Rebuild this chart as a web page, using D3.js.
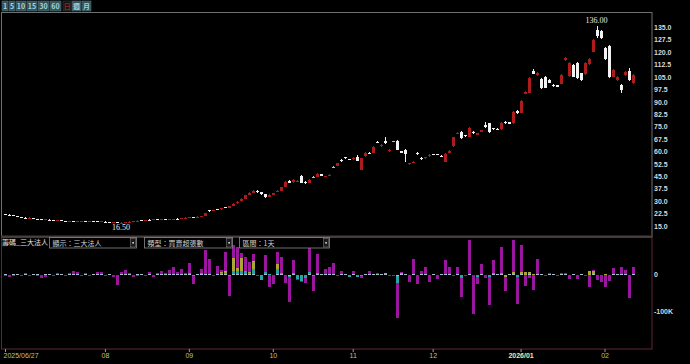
<!DOCTYPE html>
<html><head><meta charset="utf-8">
<script src="https://cdn.jsdelivr.net/npm/d3@7"></script>
<style>
body{margin:0;background:#000;overflow:hidden}
svg{display:block;font-family:"Liberation Sans",Arial,sans-serif}
</style></head><body>
<script>
const W = 690, H = 364

// trading days per month
const jun25 = [27,30]
const jul25 = [1,2,3,4,7,8,9,10,11,14,15,16,17,18,21,22,23,24,25,28,29,30,31]
const aug25 = [1,4,5,6,7,8,11,12,13,14,15,18,19,20,21,22,25,26,27,28,29]
const sep25 = [1,2,3,4,5,8,9,10,11,12,15,16,17,18,19,22,23,24,25,26,30]
const oct25 = [1,2,3,7,8,9,13,14,15,16,17,20,21,22,23,27,28,29,30,31]
const nov25 = [3,4,5,6,7,10,11,12,13,14,17,18,19,20,21,24,25,26,27,28]
const dec25 = [1,2,3,4,5,8,9,10,11,12,15,16,17,18,19,22,23,24,26,29,30,31]
const jan26 = [2,5,6,7,8,9,12,13,14,15,16,19,20,21,22,23,26,27,28,29,30]
const feb26 = [2,3,4,5,6,9,10,11]

const pad = n => String(n).padStart(2, "0")
const dates = [].concat(
  jun25.map(d => "2025/06/" + pad(d)), jul25.map(d => "2025/07/" + pad(d)),
  aug25.map(d => "2025/08/" + pad(d)), sep25.map(d => "2025/09/" + pad(d)),
  oct25.map(d => "2025/10/" + pad(d)), nov25.map(d => "2025/11/" + pad(d)),
  dec25.map(d => "2025/12/" + pad(d)), jan26.map(d => "2026/01/" + pad(d)),
  feb26.map(d => "2026/02/" + pad(d)))

const opens = [
  22.2,21.9,21.5,21.0,20.5,20.1,19.8,19.9,19.4,19.1,
  18.8,18.9,18.5,18.2,18.4,18.1,17.9,18.1,17.8,18.0,
  18.2,18.0,18.1,17.9,17.7,17.7,17.5,17.3,17.3,17.0,
  17.1,17.4,17.7,18.0,18.4,18.3,18.7,18.6,19.0,18.9,
  19.2,19.0,19.2,19.4,19.3,19.8,20.2,20.5,20.3,20.7,
  20.9,24.4,24.0,25.2,25.0,26.2,26.0,27.0,28.6,29.8,
  31.6,33.9,35.0,36.3,35.6,34.2,32.6,34.0,35.9,36.2,
  38.8,42.3,41.4,41.8,45.0,41.6,41.0,44.3,44.6,46.2,
  44.6,45.2,50.6,51.2,54.6,56.4,55.4,55.2,56.5,49.0,
  57.0,59.3,59.0,65.8,63.2,66.2,60.2,66.2,66.5,60.0,
  61.0,52.4,53.0,59.0,56.2,55.8,57.0,58.4,58.3,57.4,
  53.8,59.0,63.3,70.8,72.0,69.8,69.0,72.0,70.2,71.8,
  75.8,77.0,74.0,73.8,73.4,78.0,77.6,77.0,84.3,83.5,
  94.8,95.5,108.6,106.0,104.0,105.0,103.0,100.2,100.0,101.0,
  115.0,105.6,112.2,113.6,107.2,106.8,112.8,120.3,133.4,133.0,
  122.3,123.7,105.2,103.2,100.2,106.2,108.6,101.5]
const highs = [
  22.4,22.0,21.6,21.2,20.6,20.4,20.2,20.0,19.5,19.3,
  19.1,19.0,18.6,18.6,18.5,18.3,18.3,18.2,18.1,18.3,
  18.3,18.2,18.2,18.0,17.9,17.8,17.6,17.5,17.4,17.2,
  17.5,17.8,18.1,18.4,18.6,18.8,19.0,19.1,19.2,19.3,
  19.3,19.3,19.5,19.6,19.9,20.2,20.5,20.7,20.8,21.0,
  22.8,24.8,24.8,25.4,26.0,26.6,27.2,28.8,29.9,31.8,
  34.0,35.3,36.5,36.6,35.8,34.4,34.3,35.0,36.6,38.8,
  42.2,42.6,43.4,42.8,45.5,41.9,43.1,45.0,46.8,46.4,
  45.3,46.3,51.5,53.2,55.3,56.8,55.6,56.4,57.8,56.3,
  59.8,59.6,63.3,66.2,64.5,69.0,61.5,66.6,67.0,60.4,
  61.5,53.3,54.3,59.6,56.6,56.9,58.3,58.7,58.6,57.8,
  58.8,61.0,68.9,71.8,72.4,70.2,74.5,72.4,71.2,73.2,
  78.0,77.5,74.4,74.1,77.8,78.4,77.9,84.5,84.8,91.0,
  96.4,104.8,110.0,108.2,104.5,105.5,104.0,100.6,100.4,106.6,
  116.8,113.8,112.8,114.2,107.6,113.8,116.2,128.0,136.0,133.6,
  123.0,124.3,109.8,105.8,100.6,108.8,110.2,106.8]
const lows = [
  21.8,21.5,20.9,20.5,20.0,19.8,19.6,19.4,19.0,18.8,
  18.6,18.4,18.1,18.1,18.0,17.8,17.8,17.7,17.7,17.9,
  17.9,17.8,17.8,17.6,17.5,17.4,17.2,17.1,16.9,16.5,
  17.0,17.3,17.6,17.9,18.2,18.2,18.5,18.5,18.8,18.8,
  18.9,18.9,19.1,19.1,19.2,19.7,20.0,20.2,20.2,20.5,
  20.8,23.6,23.8,24.7,24.9,25.8,25.9,26.9,28.4,29.6,
  31.4,33.6,34.8,35.2,34.0,32.2,32.4,33.7,35.6,36.0,
  38.6,40.9,41.2,41.5,40.8,40.5,40.8,43.8,44.5,45.1,
  44.4,45.0,50.0,51.0,53.7,55.6,54.6,55.0,54.0,48.8,
  56.8,58.2,58.8,64.9,62.8,64.8,59.8,65.5,60.7,58.8,
  53.8,52.0,52.8,58.0,55.0,55.6,56.8,57.6,57.6,56.6,
  53.5,58.8,63.0,70.5,67.6,68.9,68.8,70.8,70.0,71.6,
  74.4,71.3,73.0,72.8,73.2,76.9,76.5,76.8,82.8,83.3,
  94.5,95.2,106.5,105.8,98.0,98.2,101.3,99.0,98.8,100.6,
  114.6,105.2,104.8,103.8,102.8,106.4,112.5,119.8,128.4,127.8,
  115.0,104.6,104.8,102.8,95.1,105.8,102.8,101.0]
const closes = [
  22.0,21.6,21.0,20.6,20.2,20.0,19.9,19.5,19.2,18.9,
  19.0,18.5,18.3,18.5,18.1,18.0,18.2,17.8,18.0,18.2,
  18.0,18.1,17.9,17.7,17.8,17.5,17.3,17.4,17.0,17.1,
  17.4,17.7,18.0,18.3,18.3,18.7,18.6,19.0,18.9,19.2,
  19.0,19.2,19.3,19.2,19.8,20.1,20.4,20.3,20.7,20.8,
  22.6,24.0,24.6,24.9,25.8,26.0,27.0,28.5,29.6,31.5,
  33.8,35.0,36.2,35.5,34.3,32.5,34.0,34.8,36.0,38.5,
  41.8,41.2,43.0,42.4,41.2,40.8,42.8,44.3,46.4,45.4,
  45.0,46.0,50.6,52.8,54.0,55.9,54.9,55.9,54.2,56.0,
  59.3,58.5,62.9,65.3,63.9,65.3,60.9,66.2,61.0,59.3,
  58.4,52.8,53.8,58.5,55.3,56.5,57.9,57.9,57.9,56.9,
  58.5,60.5,68.6,71.4,68.0,69.2,74.0,71.2,70.9,72.8,
  74.8,71.5,73.3,73.1,77.4,77.2,76.8,84.0,83.2,90.5,
  96.0,104.2,107.0,107.6,98.5,98.6,101.6,99.4,99.2,106.2,
  116.2,113.3,105.2,104.2,103.2,113.3,115.7,127.3,129.7,128.4,
  115.7,105.2,109.2,105.2,97.1,108.2,103.2,106.2]

// 三大法人 net buy/sell, thousands of lots
const foreign = [
  -4,-6,-3,2,-2,3,-2,-1,-3,-8,
  -5,2,-2,3,1,-2,4,8,5,-2,
  3,-3,2,5,7,-3,-2,-4,-25,6,
  12,4,-6,-3,2,-2,5,-4,3,8,
  4,12,20,6,14,4,27,-21,1,12,
  65,40,-2,21,5,51,-53,35,57,16,
  37,25,18,-2,-1,48,-31,-24,34,45,
  -20,-69,36,-1,-2,-12,68,-39,53,1,
  13,18,28,-2,9,1,-1,8,-2,-4,
  1,7,1,2,1,1,-1,-2,-94,1,
  1,-17,40,-24,9,18,-17,1,-10,1,
  39,18,-2,18,-50,-2,92,-105,-17,27,
  -8,-75,35,1,71,-36,1,86,-73,73,
  -28,-8,-39,41,1,-1,2,1,-2,2,
  3,-9,1,-9,1,-1,-31,2,-12,-18,
  -31,-16,15,1,18,11,-62,19]
const trust = [
  0,0,0,0,0,0,0,0,0,0, 0,0,0,0,0,0,0,0,0,0,
  0,0,0,0,0,0,0,0,0,0, 0,0,0,0,0,0,0,0,0,0,
  0,0,0,0,0,0,0,0,0,0,
  0,0,0,0,3,6,0,34,9,34,
  0,4,22,0,0,0,0,0,13,0,
  0,0,0,0,0,0,0,0,0,0, 0,0,0,0,0,0,0,0,0,0,
  0,0,0,0,0,2,0,0,0,3,
  0,0,0,0,0,0,0,0,0,0, 0,0,0,0,0,0,0,0,0,0,
  0,0,0,0,0,-5,0,5,0,5,
  6,4,3,0,0,0,0,0,0,0,
  0,0,0,0,0,0,11,9,0,0,
  2,0,0,0,0,0,0,0]
const dealer = [
  0,0,0,0,0,0,0,0,0,0, 0,0,0,0,0,0,0,0,0,0,
  0,0,0,0,0,0,0,0,0,0, 0,0,0,0,0,0,0,0,0,0,
  0,0,0,0,0,0,2,-2,0,2,
  0,0,0,0,2,2,-2,8,8,8,
  8,2,13,0,-12,4,3,0,13,2,
  0,-2,2,-10,-15,-8,5,-2,2,0,
  1,1,1,0,0,0,-4,0,-3,-2,
  0,0,0,0,0,0,0,0,-19,0,
  0,0,0,0,0,0,0,0,0,0,
  0,0,0,0,-8,0,0,0,-5,0,
  0,-4,3,0,3,0,0,0,-3,0,
  0,0,0,0,0,0,0,0,0,0, 0,0,0,0,0,0,0,0,0,0,
  0,0,0,0,0,0,0,0]
const hedge = [
  1,-1,1,1,-1,1,-1,1,1,-1, 1,1,-1,1,1,-1,1,1,1,-1,
  1,-1,1,1,1,-1,1,-1,-2,1, 2,1,-1,1,1,-1,1,-1,1,1,
  1,2,2,1,2,1,2,-2,2,2, 2,2,-2,2,2,2,-2,2,2,2,
  2,2,2,-2,-2,2,-2,-2,2,2, -2,-3,2,-2,-2,-2,3,-2,2,2,
  2,2,2,-2,2,2,-2,2,-2,-2, 2,2,2,2,2,2,-2,-2,-3,2,
  2,-2,2,-2,2,2,-2,2,-2,2, 2,2,-2,2,-2,-2,2,-2,-2,2,
  -2,-2,2,2,2,-2,2,2,-2,2, -2,2,-2,2,2,-2,2,2,-2,2,
  2,-2,2,-2,2,-2,-2,2,-2,-2, -2,-2,2,2,2,2,-2,2]

const priceTicks = [135,127.5,120,112.5,105,97.5,90,82.5,75,67.5,60,52.5,45,37.5,30,22.5,15]
const flowTicks = [0,-100]
const tickDates = ["2025/06/27","2025/08/01","2025/09/01","2025/10/01","2025/11/03","2025/12/01","2026/01/02","2026/02/02"]
const tickLabels = ["2025/06/27","08","09","10","11","12","2026/01","02"]
const periodBtns = ["1","5","10","15","30","60","日","週","月"]

const candles = dates.map((d, i) => ({date: d, o: opens[i], h: highs[i], l: lows[i], c: closes[i]}))
const flows = dates.map((d, i) => ({date: d, hedge: hedge[i], dealer: dealer[i], trust: trust[i], foreign: foreign[i]}))

const x = d3.scalePoint().domain(dates).range([5, 632.5])
const y = d3.scaleLinear().domain([15, 135]).range([226, 27.3])
const y2 = d3.scaleLinear().domain([-100, 0]).range([311.7, 274.7])

const svg = d3.select("body").append("svg").attr("width", W).attr("height", H)
svg.append("rect").attr("width", W).attr("height", H).attr("fill", "#000")

// period buttons
const btnX = [[2,8],[9,15],[16,26],[27,37],[38,49],[50,61],[63,71],[72,81],[82,91]]
const bar = svg.append("g")
periodBtns.forEach((t, i) => {
  const [a, b] = btnX[i]
  const sel = t === "日"
  bar.append("rect").attr("x", a).attr("y", 1).attr("width", b - a).attr("height", 10)
    .attr("fill", sel ? "#141414" : "#34545c").attr("stroke", sel ? "#3a3a3a" : "#4a6c74").attr("stroke-width", 0.6)
  bar.append("text").attr("x", (a + b) / 2).attr("y", 8.8).attr("text-anchor", "middle")
    .attr("font-size", 7).attr("font-weight", "bold")
    .attr("font-family", "'Noto Sans CJK TC','Liberation Sans',sans-serif")
    .attr("fill", sel ? "#a02020" : "#a8d4dc").text(t)
})

// panel frames
svg.append("rect").attr("x", 1.5).attr("y", 12.5).attr("width", 650.5).attr("height", 224)
  .attr("fill", "none").attr("stroke", "#707070")
svg.append("rect").attr("x", 1.5).attr("y", 237.5).attr("width", 650.5).attr("height", 111.5)
  .attr("fill", "none").attr("stroke", "#5c2635")
svg.append("line").attr("x1", 1).attr("x2", 653).attr("y1", 236.5).attr("y2", 236.5)
  .attr("stroke", "#4a3c3c").attr("stroke-width", 2)

svg.append("clipPath").attr("id", "c1").append("rect").attr("x", 2).attr("y", 13).attr("width", 650).attr("height", 223)
svg.append("clipPath").attr("id", "c2").append("rect").attr("x", 2).attr("y", 238).attr("width", 650).attr("height", 111)

// candles
const red = "#ad1b1b", white = "#f2f2f2"
const col = d => d.c > d.o ? red : d.c < d.o ? white : "#bdbdbd"
const cg = svg.append("g").attr("clip-path", "url(#c1)").attr("shape-rendering", "crispEdges")
cg.selectAll("line.wick").data(candles).enter().append("line")
  .attr("x1", d => Math.round(x(d.date)) + 0.5).attr("x2", d => Math.round(x(d.date)) + 0.5)
  .attr("y1", d => y(d.h)).attr("y2", d => y(d.l))
  .attr("stroke", col).attr("stroke-width", 1)
cg.selectAll("rect.body").data(candles).enter().append("rect")
  .attr("x", d => Math.round(x(d.date)) - 1)
  .attr("width", 3)
  .attr("y", d => y(Math.max(d.o, d.c)))
  .attr("height", d => Math.max(1, Math.abs(y(d.o) - y(d.c))))
  .attr("fill", col)

// high / low marks
const hi = candles.reduce((a, b) => b.h > a.h ? b : a)
const lo = candles.reduce((a, b) => b.l < a.l ? b : a)
cg.append("text").attr("x", x(hi.date)).attr("y", y(hi.h) - 2.5).attr("text-anchor", "middle")
  .attr("font-family", "'Liberation Serif',serif").attr("font-size", 8).attr("fill", "#e8e8e8")
  .text(hi.h.toFixed(2))
cg.append("text").attr("x", x(lo.date)).attr("y", y(lo.l) + 6.5).attr("text-anchor", "middle")
  .attr("font-family", "'Liberation Serif',serif").attr("font-size", 8).attr("fill", "#e8e8e8")
  .text(lo.l.toFixed(2))

// price axis
const ya = svg.append("g").attr("transform", "translate(652,0)")
  .call(d3.axisRight(y).tickValues(priceTicks).tickSize(0).tickPadding(2).tickFormat(d3.format(".1f")))
ya.select(".domain").remove()
ya.selectAll("text").attr("font-size", 7).attr("font-weight", "bold").attr("fill", "#d8d8d8")
  .attr("font-family", "'Liberation Sans',sans-serif")

// 三大法人 stacked bars
const keys = ["hedge", "dealer", "trust", "foreign"]
const fcol = {hedge: "#a9bfd2", dealer: "#27a4a4", trust: "#aaa832", foreign: "#9a169e"}
const series = d3.stack().keys(keys).offset(d3.stackOffsetDiverging)(flows)
const fg = svg.append("g").attr("clip-path", "url(#c2)").attr("shape-rendering", "crispEdges")
fg.selectAll("g").data(series).enter().append("g").attr("fill", s => fcol[s.key])
  .selectAll("rect").data(s => s).enter().append("rect")
  .attr("x", d => Math.round(x(d.data.date)) - 1)
  .attr("width", 3)
  .attr("y", d => y2(Math.max(d[0], d[1])))
  .attr("height", d => Math.abs(y2(d[0]) - y2(d[1])))

const fa = svg.append("g").attr("transform", "translate(652,0)")
  .call(d3.axisRight(y2).tickValues(flowTicks).tickSize(0).tickPadding(2).tickFormat(d => d === 0 ? "0" : d + "K"))
fa.select(".domain").remove()
fa.selectAll("text").attr("font-size", 7).attr("font-weight", "bold").attr("fill", "#d8d8d8")
  .attr("font-family", "'Liberation Sans',sans-serif")

// indicator header
const cjk = "'Noto Sans CJK TC','Noto Sans CJK SC',sans-serif"
svg.append("text").attr("x", 2).attr("y", 245).attr("font-size", 7).attr("font-family", cjk)
  .attr("fill", "#e6e6e6").text("籌碼_三大法人")
const boxes = [["顯示：三大法人", 49.5, 136.5], ["類型：買賣超張數", 144.5, 232.5], ["區間：1天", 239.5, 329.5]]
boxes.forEach(([t, a, b]) => {
  svg.append("rect").attr("x", a).attr("y", 237.5).attr("width", b - a).attr("height", 10.5)
    .attr("fill", "#000").attr("stroke", "#8a8a8a").attr("stroke-width", 0.8)
  svg.append("rect").attr("x", b - 6).attr("y", 238.5).attr("width", 5).attr("height", 8.5)
    .attr("fill", "#1a1a1a").attr("stroke", "#8a8a8a").attr("stroke-width", 0.5)
  svg.append("rect").attr("x", b - 4.2).attr("y", 242).attr("width", 1.6).attr("height", 1.6).attr("fill", "#ddd")
  svg.append("text").attr("x", a + 3).attr("y", 245.5).attr("font-size", 7).attr("font-family", cjk)
    .attr("fill", "#d0d0d0").text(t)
})

// date axis
const xa = svg.append("g").attr("transform", "translate(0,349)")
  .call(d3.axisBottom(x).tickValues(tickDates).tickSize(3).tickPadding(1).tickFormat((d, i) => tickLabels[i]))
xa.select(".domain").remove()
xa.selectAll("line").attr("stroke", "#9a9a9a")
xa.selectAll("text").attr("font-size", 7).attr("font-family", "'Liberation Sans',sans-serif")
  .attr("fill", (d, i) => tickLabels[i] === "2026/01" ? "#eeeea0" : "#c4c270")
  .attr("font-weight", (d, i) => tickLabels[i] === "2026/01" ? "bold" : "normal")
  .attr("text-anchor", (d, i) => i === 0 ? "start" : "middle")
  .attr("dx", (d, i) => i === 0 ? -2 : 0)
</script></body></html>
